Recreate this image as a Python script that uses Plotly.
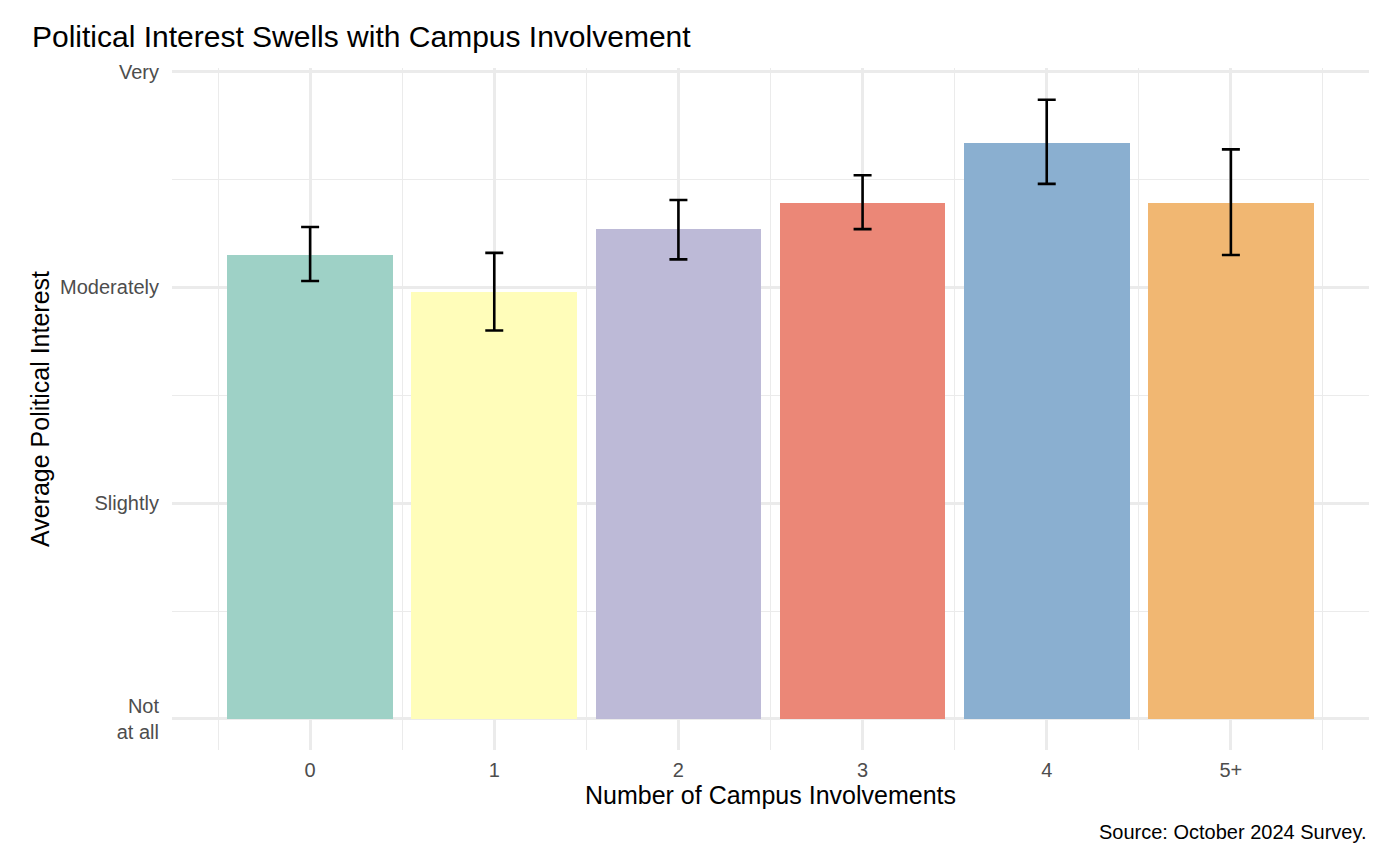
import plotly.graph_objects as go

categories = ["0", "1", "2", "3", "4", "5+"]
mean_interest = [3.15, 2.98, 3.27, 3.39, 3.67, 3.39]
ci_upper = [3.28, 3.16, 3.405, 3.52, 3.87, 3.64]
ci_lower = [3.03, 2.80, 3.13, 3.27, 3.48, 3.15]
bar_colors = ["#9ED1C6", "#FFFDBA", "#BDBAD7", "#EB8777", "#8AAFD0", "#F1B772"]
y_tick_values = [1, 2, 3, 4]
y_tick_labels = ["Not<br>at all", "Slightly", "Moderately", "Very"]
baseline = 1

positions = list(range(len(categories)))

W, H = 1384, 846
fig = go.Figure()
fig.add_trace(go.Bar(
    x=positions,
    y=[m - baseline for m in mean_interest],
    base=baseline,
    width=0.9,
    marker=dict(color=bar_colors, line=dict(width=0)),
    showlegend=False,
    hoverinfo="skip",
))
fig.add_trace(go.Scatter(
    x=positions,
    y=mean_interest,
    mode="markers",
    marker=dict(size=0.1, color="rgba(0,0,0,0)"),
    error_y=dict(
        type="data",
        symmetric=False,
        array=[u - m for u, m in zip(ci_upper, mean_interest)],
        arrayminus=[m - l for m, l in zip(mean_interest, ci_lower)],
        color="black",
        thickness=2.6,
        width=9,
    ),
    showlegend=False,
    hoverinfo="skip",
))

grid = "#EBEBEB"
fig.update_layout(
    width=W,
    height=H,
    plot_bgcolor="white",
    paper_bgcolor="white",
    margin=dict(l=164, r=23, t=60, b=104),
    font=dict(family="Liberation Sans, Arial, sans-serif", color="black"),
    title=dict(
        text="Political Interest Swells with Campus Involvement",
        x=24 / W, xref="container", xanchor="left",
        y=1 - 28.5 / H, yref="container", yanchor="middle",
        font=dict(size=30, color="black"),
    ),
    bargap=0,
)
fig.update_xaxes(
    range=[-0.75, len(categories) - 0.25],
    tickmode="array",
    tickvals=positions,
    ticktext=categories,
    showgrid=True, gridcolor=grid, gridwidth=2.5,
    minor=dict(tickmode="linear", tick0=-0.5, dtick=1, showgrid=True,
               gridcolor=grid, gridwidth=1.2),
    zeroline=False, showline=False,
    ticks="", ticklabelstandoff=6,
    tickfont=dict(size=20, color="#4D4D4D"),
    title=dict(text="Number of Campus Involvements", font=dict(size=25, color="black"),
               standoff=6),
)
fig.update_yaxes(
    range=[0.856, 4.017],
    tickmode="array",
    tickvals=y_tick_values,
    ticktext=y_tick_labels,
    showgrid=True, gridcolor=grid, gridwidth=2.5,
    minor=dict(tickmode="array", tickvals=[1.5, 2.5, 3.5], showgrid=True,
               gridcolor=grid, gridwidth=1.2),
    zeroline=False, showline=False,
    ticks="", ticklabelstandoff=12,
    tickfont=dict(size=20, color="#4D4D4D"),
    title=dict(text="Average Political Interest", font=dict(size=25, color="black"),
               standoff=3),
)
fig.add_annotation(
    text="Source: October 2024 Survey.",
    xref="paper", yref="paper",
    x=1.0, y=-(824 - 742) / 682,
    xanchor="right", yanchor="middle",
    showarrow=False,
    font=dict(size=20, color="black"),
)

fig.write_html("out.html")
